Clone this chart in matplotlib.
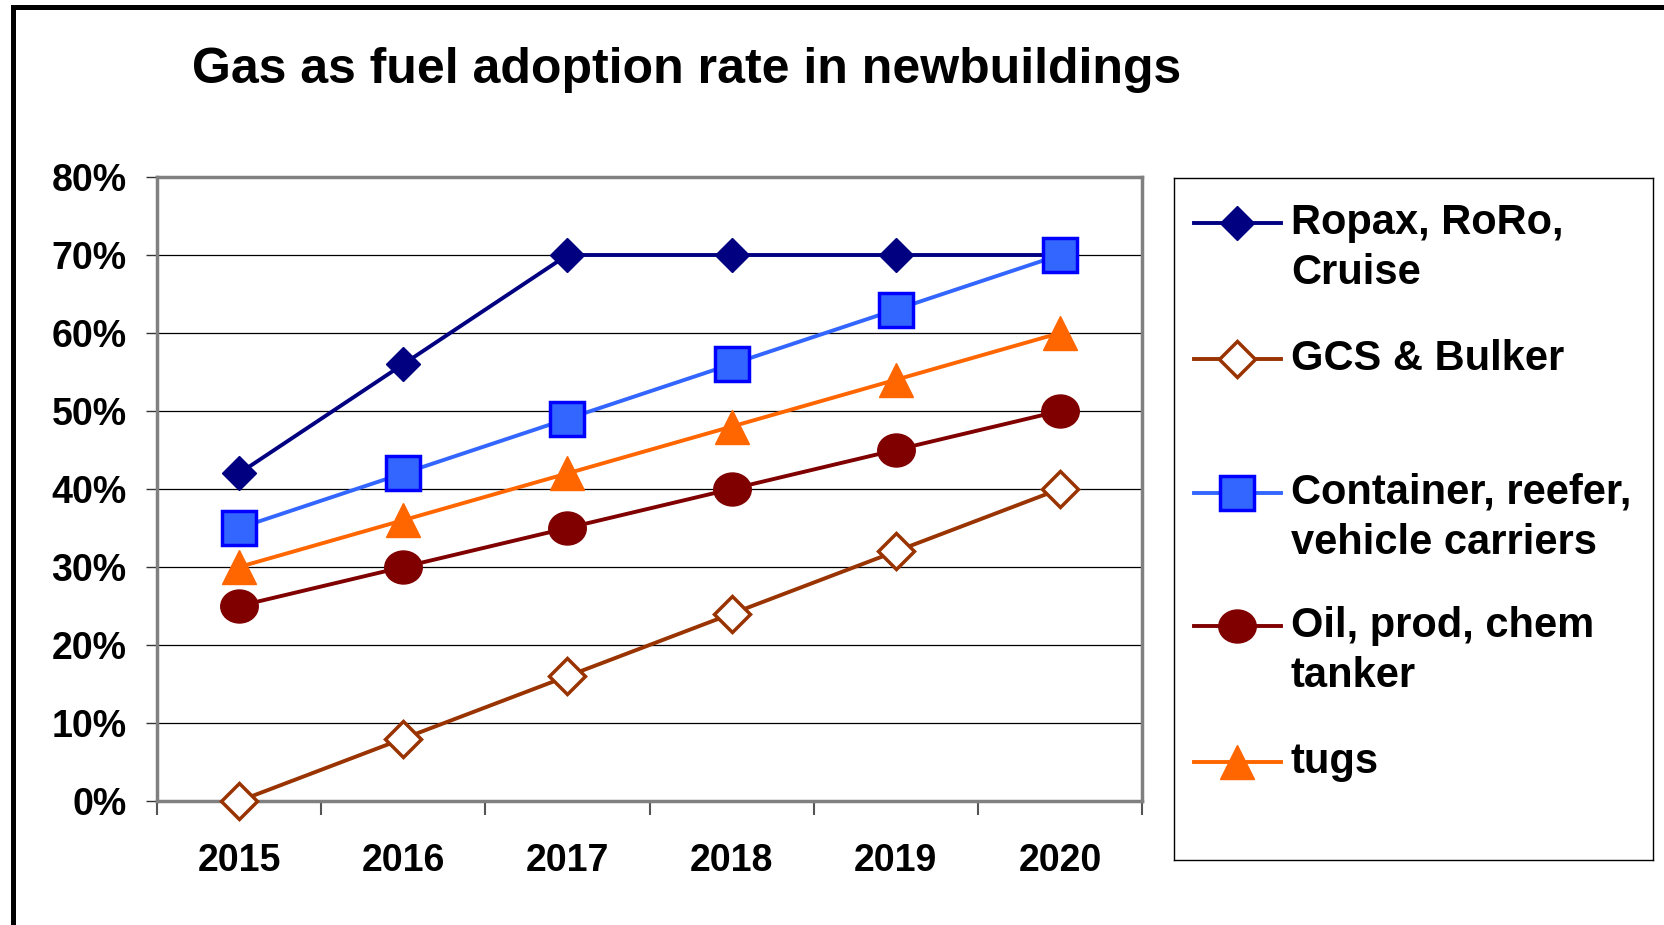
import matplotlib.pyplot as plt
import numpy as np
from matplotlib.lines import Line2D
from matplotlib.path import Path
from matplotlib.transforms import Affine2D

plt.rcParams['font.family'] = ['Liberation Sans', 'DejaVu Sans']
plt.rcParams['font.weight'] = 'bold'

years = ['2015', '2016', '2017', '2018', '2019', '2020']
labels = ['Ropax, RoRo,\nCruise', 'GCS & Bulker', 'Container, reefer,\nvehicle carriers',
          'Oil, prod, chem\ntanker', 'tugs']
ropax = [42, 56, 70, 70, 70, 70]
gcs_bulker = [0, 8, 16, 24, 32, 40]
container = [35, 42, 49, 56, 63, 70]
oil_tanker = [25, 30, 35, 40, 45, 50]
tugs = [30, 36, 42, 48, 54, 60]
yticks = [0, 10, 20, 30, 40, 50, 60, 70, 80]

# wide ellipse marker like the original
ellipse = Path.unit_circle().transformed(Affine2D().scale(1.0, 0.88))

styles = [
    dict(color='#000080', marker='D', ms=17.5, mfc='#000080', mec='#000080'),
    dict(color='#993300', marker='D', ms=18, mfc='white', mec='#993300', mew=2.5),
    dict(color='#3366FF', marker='s', ms=24.5, mfc='#3366FF', mec='#0000FF', mew=2.5),
    dict(color='#800000', marker=ellipse, ms=27, mfc='#800000', mec='#800000'),
    dict(color='#FF6600', marker='^', ms=24, mfc='#FF6600', mec='#FF6600'),
]
series = [ropax, gcs_bulker, container, oil_tanker, tugs]

W, H = 1664, 925
fig = plt.figure(figsize=(W / 100, H / 100), dpi=100)

# plot area
ax = fig.add_axes([157 / W, 1 - 801 / H, (1142 - 157) / W, (801 - 177) / H])
x = np.arange(len(years))
for vals, st in zip(series, styles):
    ax.plot(x, vals, lw=2.8, clip_on=False, zorder=3, **st)

ax.set_xlim(-0.5, len(years) - 0.5)
ax.set_ylim(0, 80)
ax.set_yticks(yticks)
ax.set_yticklabels([f'{v}%' for v in yticks])
ax.set_xticks(x)
ax.set_xticklabels(years)
ax.set_xticks(np.arange(-0.5, len(years)), minor=True)
ax.grid(axis='y', color='black', lw=0.9, zorder=1)
for sp in ax.spines.values():
    sp.set_color('#808080')
    sp.set_linewidth(2.5)
ax.tick_params(axis='y', length=8, width=1, color='#333333', pad=14, labelsize=27)
ax.tick_params(axis='x', which='major', length=0, pad=30, labelsize=27)
ax.tick_params(axis='x', which='minor', length=10, width=1.5, color='#555555')

# title
fig.text(687 / W, 1 - 70 / H, 'Gas as fuel adoption rate in newbuildings',
         ha='center', va='center', fontsize=36, fontweight='bold')

# legend box drawn in pixel-like coordinates
lx0, lx1, ly0, ly1 = 1174, 1653, 178, 860
lax = fig.add_axes([lx0 / W, 1 - ly1 / H, (lx1 - lx0) / W, (ly1 - ly0) / H])
lax.set_xlim(lx0, lx1)
lax.set_ylim(ly1, ly0)
lax.set_xticks([])
lax.set_yticks([])
for sp in lax.spines.values():
    sp.set_color('black')
    sp.set_linewidth(1)
hy = [223, 359, 493, 626, 762]
for lab, st, y in zip(labels, styles, hy):
    lax.plot([1194, 1281], [y, y], lw=2.8, color=st['color'])
    lax.plot([1237], [y], ls='none', **st)
    for i, line in enumerate(lab.split('\n')):
        lax.text(1291, y + i * 50, line, va='center', ha='left', fontsize=30,
                 fontweight='bold')

# outer chart frame (cropped on right and bottom)
fig.add_artist(Line2D([13 / W, 13 / W], [0, 1 - 7 / H], color='black', lw=3.6,
                      transform=fig.transFigure))
fig.add_artist(Line2D([13 / W, 1], [1 - 7 / H, 1 - 7 / H], color='black', lw=3.6,
                      transform=fig.transFigure))

fig.savefig('out.png', dpi=100)
